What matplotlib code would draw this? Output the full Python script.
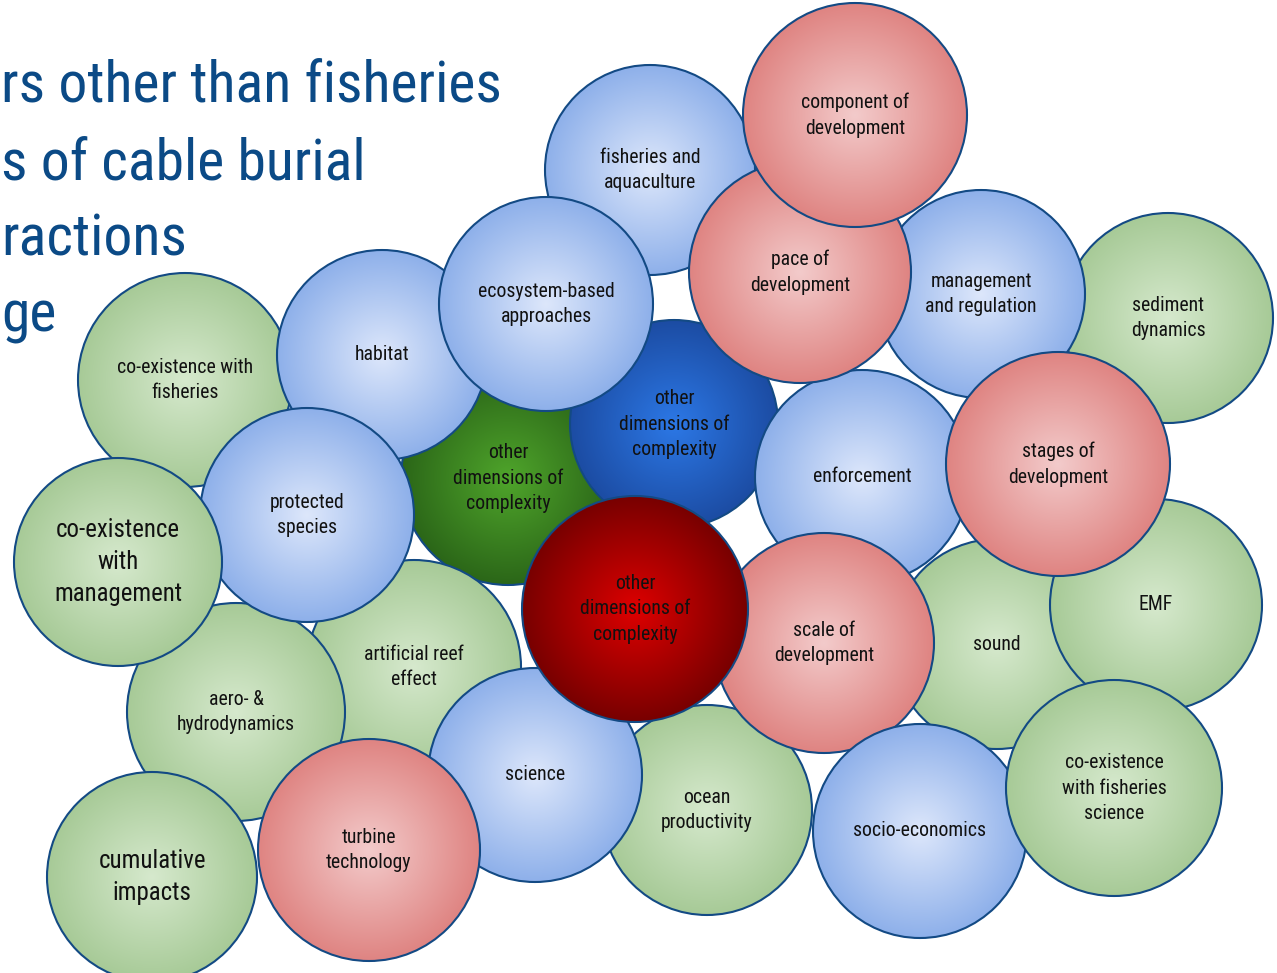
import numpy as np
import matplotlib.pyplot as plt
from matplotlib.patches import Circle
from matplotlib import font_manager
from matplotlib.colors import to_rgb

W, H = 1277, 973

# Title fragments (cropped slide title)
title_lines = ["rs other than fisheries", "s of cable burial", "ractions", "ge"]
title_base = [102, 179, 256, 332]

# Bubbles, listed bottom layer first
labels = [
    "co-existence with\nfisheries", "fisheries and\naquaculture", "sediment\ndynamics",
    "management\nand regulation", "other\ndimensions of\ncomplexity", "other\ndimensions of\ncomplexity",
    "enforcement", "sound", "EMF", "ocean\nproductivity", "artificial reef\neffect",
    "aero- &\nhydrodynamics", "pace of\ndevelopment", "component of\ndevelopment", "habitat",
    "ecosystem-based\napproaches", "protected\nspecies", "co-existence\nwith\nmanagement",
    "cumulative\nimpacts", "science", "turbine\ntechnology", "scale of\ndevelopment",
    "socio-economics", "co-existence\nwith fisheries\nscience", "other\ndimensions of\ncomplexity",
    "stages of\ndevelopment",
]
cx = [185, 650, 1168, 981, 508, 674, 862, 997, 1156, 707, 414, 236, 800, 855, 382,
      546, 307, 118, 152, 535, 369, 824, 920, 1114, 635, 1058]
cy = [380, 170, 318, 294, 478, 424, 477, 644, 605, 810, 667, 712, 272, 115, 355,
      304, 515, 562, 877, 775, 850, 643, 831, 788, 609, 464]
rad = [107, 105, 105, 104, 107, 104, 107, 105, 106, 105, 107, 109, 111, 112, 105,
       107, 107, 104, 105, 107, 111, 110, 107, 108, 113, 112]
kind = ["green", "blue", "green", "blue", "dgreen", "dblue", "blue", "green", "green",
        "green", "green", "green", "red", "red", "blue", "blue", "blue", "green",
        "green", "blue", "red", "red", "blue", "green", "dred", "red"]
big = [17, 18]  # labels drawn larger

# (centre colour, rim colour) of the radial gradients
palette = {
    "blue": ("#dde7fb", "#8eb0ea"),
    "green": ("#d6e9cd", "#a7ca97"),
    "red": ("#f3cbcb", "#df8482"),
    "dblue": ("#2c78e6", "#1c4ca3"),
    "dgreen": ("#4fa52b", "#2b6618"),
    "dred": ("#de0000", "#780000"),
}
edge = "#134a84"

# look for a narrow sans (the slide uses Arial Narrow)
fonts = font_manager.fontManager.ttflist
narrow = None
for key in ["LiberationSansNarrow-Regular", "RobotoCondensed-Regular", "DejaVuSansCondensed.ttf"]:
    hits = [f.fname for f in fonts if key in f.fname]
    if hits:
        narrow = font_manager.FontProperties(fname=hits[0])
        break
if narrow is None:
    narrow = font_manager.FontProperties(family="Roboto")
    scale = 0.85
else:
    scale = 1.0

fig = plt.figure(figsize=(W / 100, H / 100), dpi=100)
ax = fig.add_axes([0, 0, 1, 1])

n = 200
g = np.linspace(-1, 1, n)
X, Y = np.meshgrid(g, g)
T = np.clip(np.hypot(X, Y), 0, 1)[..., None]

for i, (lab, x, y, r, k) in enumerate(zip(labels, cx, cy, rad, kind)):
    c0 = np.array(to_rgb(palette[k][0]))
    c1 = np.array(to_rgb(palette[k][1]))
    img = c0 + (c1 - c0) * T
    circ = Circle((x, y), r, facecolor="none", edgecolor=edge, lw=1.5, zorder=2 * i + 3)
    im = ax.imshow(img, extent=(x - r, x + r, y + r, y - r), zorder=2 * i + 2,
                   interpolation="bilinear")
    ax.add_patch(circ)
    im.set_clip_path(circ)
    if i in big:
        fs, ls = 17.9, 1.42
    else:
        fs, ls = 14.2, 1.45
    ax.text(x, y, lab, ha="center", va="center", fontproperties=narrow, fontsize=fs * scale,
            color="#111111", linespacing=ls / scale, zorder=200)

for t, b in zip(title_lines, title_base):
    ax.text(1, b, t, ha="left", va="baseline", fontproperties=narrow, fontsize=41.5 * scale,
            color="#0b4a86", zorder=1)

ax.set_xlim(0, W)
ax.set_ylim(H, 0)
ax.set_aspect("auto")
ax.axis("off")

fig.savefig("out.png", dpi=100)
